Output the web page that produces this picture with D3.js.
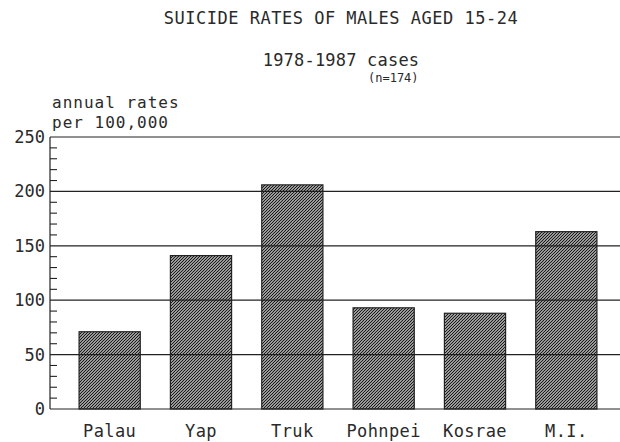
<!DOCTYPE html>
<html>
<head>
<meta charset="utf-8">
<script src="https://cdn.jsdelivr.net/npm/d3@7"></script>
<style>
  html, body { margin: 0; padding: 0; background: #fff; }
  svg { display: block; }
  text { font-family: "DejaVu Sans Mono", "Liberation Mono", monospace; fill: #2a2a2a; }
</style>
</head>
<body>
<div id="chart"></div>
<script>
// island groups and annual suicide rates per 100,000 (males 15-24)
const islands = ["Palau", "Yap", "Truk", "Pohnpei", "Kosrae", "M.I."];
const rates = [71, 141, 206, 93, 88, 163];
const majorTicks = [0, 50, 100, 150, 200, 250];
const minorTicks = d3.range(0, 251, 10).filter(v => v % 50 !== 0);

const width = 620, height = 442;
const axisX = 50, plotRight = 620, yTop = 137, yBottom = 409;

const svg = d3.select("#chart").append("svg")
  .attr("width", width)
  .attr("height", height);

// dense diagonal hatching like the plotter fill
const defs = svg.append("defs");
defs.append("pattern")
  .attr("id", "hatch")
  .attr("patternUnits", "userSpaceOnUse")
  .attr("width", 3).attr("height", 3)
  .append("path")
  .attr("d", "M-1,1 l2,-2 M0,3 l3,-3 M2,4 l2,-2")
  .attr("stroke", "#1a1a1a")
  .attr("stroke-width", 1.3);

const y = d3.scaleLinear().domain([0, 250]).range([yBottom, yTop]);
const x = d3.scaleBand()
  .domain(islands)
  .range([64, 612])
  .paddingInner(0.33)
  .paddingOuter(0.165);

// gridlines at major ticks
svg.append("g").selectAll("line")
  .data(majorTicks)
  .enter().append("line")
  .attr("x1", axisX).attr("x2", plotRight)
  .attr("y1", d => y(d)).attr("y2", d => y(d))
  .attr("stroke", "#222")
  .attr("stroke-width", 1.2);

// bars
svg.append("g").selectAll("rect")
  .data(islands)
  .enter().append("rect")
  .attr("x", d => x(d))
  .attr("width", x.bandwidth())
  .attr("y", (d, i) => y(rates[i]))
  .attr("height", (d, i) => y(0) - y(rates[i]))
  .attr("fill", "url(#hatch)")
  .attr("stroke", "#222")
  .attr("stroke-width", 1.2);

// y axis line + minor ticks
svg.append("line")
  .attr("x1", axisX).attr("x2", axisX)
  .attr("y1", y(250)).attr("y2", y(0))
  .attr("stroke", "#222").attr("stroke-width", 1.2);

svg.append("g").selectAll("line")
  .data(minorTicks)
  .enter().append("line")
  .attr("x1", axisX).attr("x2", axisX + 7)
  .attr("y1", d => y(d)).attr("y2", d => y(d))
  .attr("stroke", "#222").attr("stroke-width", 1.1);

// y tick labels
svg.append("g").selectAll("text")
  .data(majorTicks)
  .enter().append("text")
  .attr("x", axisX - 5)
  .attr("y", d => y(d) + 6)
  .attr("text-anchor", "end")
  .attr("font-size", 17)
  .text(d => d);

// x labels
svg.append("g").selectAll("text")
  .data(islands)
  .enter().append("text")
  .attr("x", d => x(d) + x.bandwidth() / 2)
  .attr("y", 437)
  .attr("text-anchor", "middle")
  .attr("font-size", 17)
  .attr("letter-spacing", 0.4)
  .text(d => d);

// titles
svg.append("text")
  .attr("x", 341).attr("y", 24)
  .attr("text-anchor", "middle")
  .attr("font-size", 17)
  .attr("letter-spacing", 0.5)
  .text("SUICIDE RATES OF MALES AGED 15-24");

svg.append("text")
  .attr("x", 341).attr("y", 66)
  .attr("text-anchor", "middle")
  .attr("font-size", 17)
  .attr("letter-spacing", 0.2)
  .text("1978-1987 cases");

svg.append("text")
  .attr("x", 368).attr("y", 82)
  .attr("font-size", 12)
  .text("(n=174)");

// axis title
svg.append("text")
  .attr("x", 52).attr("y", 108)
  .attr("font-size", 16)
  .attr("letter-spacing", 1)
  .text("annual rates");

svg.append("text")
  .attr("x", 52).attr("y", 128)
  .attr("font-size", 16)
  .attr("letter-spacing", 1)
  .text("per 100,000");
</script>
</body>
</html>
